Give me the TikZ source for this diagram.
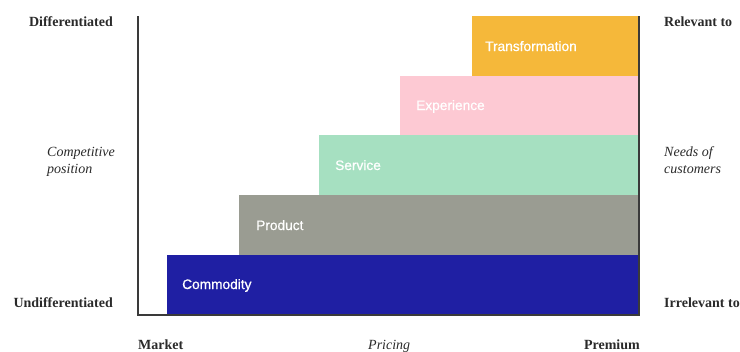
\documentclass[tikz,border=0pt]{standalone}
\usepackage{fontspec}
\setmainfont{Liberation Serif}
\newfontfamily\blockfont[BoldFont={Liberation Sans},BoldFeatures={FakeBold=0.7}]{Liberation Sans}
\definecolor{commodityblue}{HTML}{1F1FA3}
\definecolor{productgray}{HTML}{9A9C92}
\definecolor{servicemint}{HTML}{A6E0C1}
\definecolor{experiencepink}{HTML}{FDC9D3}
\definecolor{transformorange}{HTML}{F5B83A}
\definecolor{axisgray}{HTML}{3A3A3A}
\definecolor{inkgray}{HTML}{2A2A2A}
\begin{document}
\begin{tikzpicture}[x=1bp,y=-1bp,
  axisline/.style={draw=axisgray,line width=1.3bp},
  tierlabel/.style={anchor=base west,inner sep=0pt,text=white,
    font=\blockfont\bfseries\fontsize{13.7bp}{16bp}\selectfont},
  sidehead/.style={inner sep=0pt,text=inkgray,
    font=\bfseries\fontsize{14bp}{17bp}\selectfont},
  sidenote/.style={inner sep=0pt,text=inkgray,align=left,
    font=\itshape\fontsize{14bp}{17bp}\selectfont}]
  \useasboundingbox (0,0) rectangle (740,351);

  % stacked tiers, widest at the bottom
  \fill[commodityblue]   (167,255) rectangle (639,315);
  \fill[productgray]     (239,195) rectangle (639,255);
  \fill[servicemint]     (319,135) rectangle (639,195);
  \fill[experiencepink]  (400,76)  rectangle (639,135);
  \fill[transformorange] (472,16)  rectangle (639,76);

  \node[tierlabel] (commodity)  at (182,289) {Commodity};
  \node[tierlabel] (product)    at (256,230) {Product};
  \node[tierlabel] (service)    at (335,170) {Service};
  \node[tierlabel] (experience) at (416,110) {Experience};
  \node[tierlabel] (transform)  at (485,51)  {Transformation};

  % axes
  \coordinate (top left)  at (138,16);
  \coordinate (origin)    at (138,315);
  \coordinate (bot right) at (639,315);
  \coordinate (top right) at (639,16);
  \draw[axisline] (top left) -- (origin) -- (bot right) -- (top right);

  % left side
  \node[sidehead,anchor=base east] (diff)   at (113,26)  {Differentiated};
  \node[sidehead,anchor=base east] (undiff) at (113,307) {Undifferentiated};
  \node[sidenote,anchor=base west] (compet) at (47,173)  {Competitive\\position};

  % right side
  \node[sidehead,anchor=base west] (rel)    at (664,26)  {Relevant to};
  \node[sidehead,anchor=base west] (irrel)  at (664,307) {Irrelevant to};
  \node[sidenote,anchor=base west] (needs)  at (664,173) {Needs of\\customers};

  % bottom
  \node[sidehead,anchor=base west] (market)  at (138,349) {Market};
  \node[sidenote,anchor=base west] (pricing) at (368,349) {Pricing};
  \node[sidehead,anchor=base east] (premium) at (640,349) {Premium};
\end{tikzpicture}
\end{document}
